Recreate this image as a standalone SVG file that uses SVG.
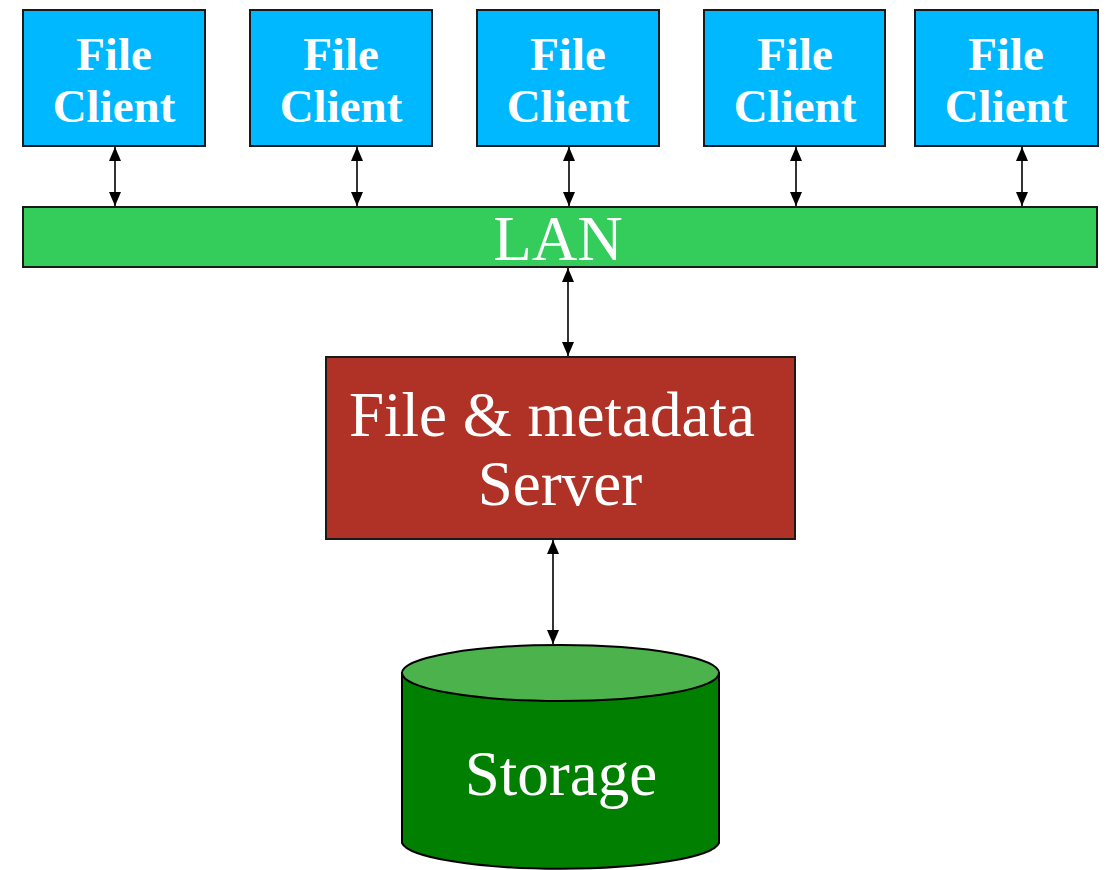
<svg xmlns="http://www.w3.org/2000/svg" width="1110" height="870" viewBox="0 0 1110 870">
<style>
.client rect{fill:#00B8FF;stroke:#1a1a1a;stroke-width:2}
.ct{font-family:"Liberation Serif",serif;font-weight:bold;font-size:47px;fill:#fff;text-anchor:middle}
.st{font-family:"Liberation Serif",serif;font-size:63px;fill:#fff;text-anchor:middle}
.conn line{stroke:#000;stroke-width:1.6;marker-start:url(#ah);marker-end:url(#ah)}
</style>
<defs>
<marker id="ah" viewBox="0 0 14 12" refX="14" refY="6" markerWidth="14" markerHeight="12" markerUnits="userSpaceOnUse" orient="auto-start-reverse">
<path d="M0,0 L14,6 L0,12 z" fill="#000"/>
</marker>
</defs>
<rect width="1110" height="870" fill="#fff"/>
<g id="client1" class="client"><rect x="23" y="10" width="182" height="136"/><text class="ct" x="114" y="70">File</text><text class="ct" x="114" y="122">Client</text></g>
<g id="client2" class="client"><rect x="250" y="10" width="182" height="136"/><text class="ct" x="341" y="70">File</text><text class="ct" x="341" y="122">Client</text></g>
<g id="client3" class="client"><rect x="477" y="10" width="182" height="136"/><text class="ct" x="568" y="70">File</text><text class="ct" x="568" y="122">Client</text></g>
<g id="client4" class="client"><rect x="704" y="10" width="181" height="136"/><text class="ct" x="795" y="70">File</text><text class="ct" x="795" y="122">Client</text></g>
<g id="client5" class="client"><rect x="915" y="10" width="183" height="136"/><text class="ct" x="1006" y="70">File</text><text class="ct" x="1006" y="122">Client</text></g>
<g id="lan"><rect x="23" y="207" width="1074" height="60" fill="#34CC5A" stroke="#1a1a1a" stroke-width="2"/><text class="st" x="558" y="260" font-size="62">LAN</text></g>
<g id="server"><rect x="326" y="357" width="469" height="182" fill="#B03126" stroke="#1a1a1a" stroke-width="2"/><text class="st" x="552" y="436" font-size="64">File &amp; metadata</text><text class="st" x="560" y="505" font-size="64">Server</text></g>
<g id="storage">
<path d="M402,673 L402,843 A159,28 0 0 0 719,843 L719,673 Z" fill="#007F00" stroke="#000" stroke-width="2"/>
<ellipse cx="560.5" cy="673" rx="158.5" ry="28" fill="#4CB34C" stroke="#000" stroke-width="2"/>
<text class="st" x="561" y="795" font-size="62">Storage</text>
</g>
<g id="connectors" class="conn">
<line x1="115" y1="147" x2="115" y2="206"/>
<line x1="357" y1="147" x2="357" y2="206"/>
<line x1="569" y1="147" x2="569" y2="206"/>
<line x1="796" y1="147" x2="796" y2="206"/>
<line x1="1022" y1="147" x2="1022" y2="206"/>
<line x1="568" y1="268" x2="568" y2="356"/>
<line x1="553" y1="540" x2="553" y2="644"/>
</g>
</svg>
